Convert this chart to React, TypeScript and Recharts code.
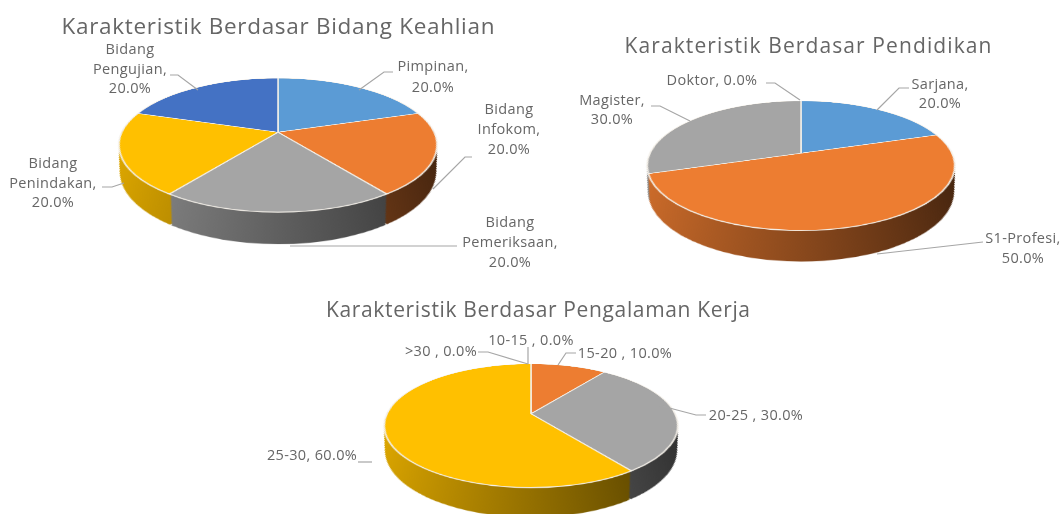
import React from 'react';
import { PieChart, Pie, Cell } from 'recharts';

const keahlianNames = ['Pimpinan', 'Bidang Infokom', 'Bidang Pemeriksaan', 'Bidang Penindakan', 'Bidang Pengujian'];
const keahlianValues = [20, 20, 20, 20, 20];
const keahlianColors = ['#5b9bd5', '#ed7d31', '#a5a5a5', '#ffc000', '#4472c4'];

const pendidikanNames = ['Sarjana', 'S1-Profesi', 'Magister', 'Doktor'];
const pendidikanValues = [20, 50, 30, 0];
const pendidikanColors = ['#5b9bd5', '#ed7d31', '#a5a5a5', '#ffc000'];

const pengalamanNames = ['10-15', '15-20', '20-25', '25-30', '>30'];
const pengalamanValues = [0, 10, 30, 60, 0];
const pengalamanColors = ['#5b9bd5', '#ed7d31', '#a5a5a5', '#ffc000', '#4472c4'];

const FONT = '"Open Sans", sans-serif';
const TEXT = '#666666';
const LINE = '#a6a6a6';

function shade(hex: string, f: number) {
  const n = parseInt(hex.slice(1), 16);
  const c = [(n >> 16) & 255, (n >> 8) & 255, n & 255].map((v) => Math.round(v * f));
  return `rgb(${c[0]},${c[1]},${c[2]})`;
}

function Pie3D({ id, names, values, colors, ax, ay, R }: any) {
  const data = names.map((name: string, i: number) => ({ name, value: values[i] })).filter((d: any) => d.value > 0);
  const cols = colors.filter((_: string, i: number) => values[i] > 0);
  const W = Math.round(R * 2.4);
  const H = Math.round(R * 2.9);
  const cx = W / 2;
  const cy = R * 1.2;
  const layers = Array.from({ length: 36 }, (_, i) => 36 - i);
  return (
    <div
      style={{
        position: 'absolute',
        left: ax - cx,
        top: ay - cy,
        width: W,
        height: H,
        transformOrigin: `${cx}px ${cy}px`,
        transform: `perspective(${R * 4.7}px) rotateX(65.6deg)`,
        filter: 'blur(0.3px)',
      }}
    >
      <PieChart width={W} height={H} margin={{ top: 0, right: 0, bottom: 0, left: 0 }}>
        <defs>
          {cols.map((c: string, i: number) => (
            <linearGradient key={i} id={`${id}-side-${i}`} gradientUnits="userSpaceOnUse" x1={cx - R} x2={cx + R} y1={0} y2={0}>
              <stop offset="0%" stopColor={shade(c, 0.88)} />
              <stop offset="100%" stopColor={shade(c, 0.28)} />
            </linearGradient>
          ))}
        </defs>
        {layers.map((k) => (
          <Pie
            key={k}
            data={data}
            dataKey="value"
            cx={cx}
            cy={cy + (k / 36) * R * 0.38}
            innerRadius={0}
            outerRadius={R * (1 - (k / 36) * 0.08)}
            startAngle={90}
            endAngle={-270}
            paddingAngle={0.5}
            stroke="none"
            isAnimationActive={false}
          >
            {cols.map((_: string, i: number) => (
              <Cell key={i} fill={`url(#${id}-side-${i})`} />
            ))}
          </Pie>
        ))}
        <Pie
          data={data}
          dataKey="value"
          cx={cx}
          cy={cy}
          innerRadius={0}
          outerRadius={R}
          startAngle={90}
          endAngle={-270}
          stroke="#f3efe8"
          strokeWidth={1.6}
          isAnimationActive={false}
        >
          {cols.map((c: string, i: number) => (
            <Cell key={i} fill={c} />
          ))}
        </Pie>
      </PieChart>
    </div>
  );
}

const titles = [
  { text: 'Karakteristik Berdasar Bidang Keahlian', x: 278, y: 34, w: 433, size: 22.5 },
  { text: 'Karakteristik Berdasar Pendidikan', x: 808, y: 53, w: 367, size: 21 },
  { text: 'Karakteristik Berdasar Pengalaman Kerja', x: 538, y: 317, w: 424, size: 21 },
];

const pct = (v: number) => `${v.toFixed(1)}%`;

const labels = [
  { lines: ['Bidang', 'Pengujian,', pct(keahlianValues[4])], x: 130, y: 54, gap: 19.5 },
  { lines: ['Pimpinan,', pct(keahlianValues[0])], x: 433, y: 71, gap: 21 },
  { lines: ['Bidang', 'Infokom,', pct(keahlianValues[1])], x: 509, y: 114, gap: 20 },
  { lines: ['Bidang', 'Pemeriksaan,', pct(keahlianValues[2])], x: 510, y: 227, gap: 20 },
  { lines: ['Bidang', 'Penindakan,', pct(keahlianValues[3])], x: 53, y: 168, gap: 19.5 },
  { lines: [`Doktor, ${pct(pendidikanValues[3])}`], x: 712, y: 85, gap: 0 },
  { lines: ['Magister,', pct(pendidikanValues[2])], x: 612, y: 105, gap: 19 },
  { lines: ['Sarjana,', pct(pendidikanValues[0])], x: 940, y: 89, gap: 19 },
  { lines: ['S1-Profesi,', pct(pendidikanValues[1])], x: 1023, y: 243, gap: 19.5 },
  { lines: [`10-15 , ${pct(pengalamanValues[0])}`], x: 531, y: 345, gap: 0 },
  { lines: [`>30 , ${pct(pengalamanValues[4])}`], x: 441, y: 356, gap: 0 },
  { lines: [`15-20 , ${pct(pengalamanValues[1])}`], x: 625, y: 358, gap: 0 },
  { lines: [`20-25 , ${pct(pengalamanValues[2])}`], x: 756, y: 420, gap: 0 },
  { lines: [`25-30, ${pct(pengalamanValues[3])}`], x: 312, y: 460, gap: 0 },
];

const leaders = [
  '170,75 178,75 198,90',
  '393,72 384,72 359,90',
  '472,157 465,157 433,189',
  '457,246 290,246',
  '102,187 112,187 124,183',
  '766,83 775,83 800,100',
  '651,106 660,106 690,121',
  '909,88 899,88 877,110',
  '983,242 877,254',
  '528,347 528,364',
  '478,352 488,352 528,364',
  '576,353 566,353 558,365',
  '706,415 696,415 658,405',
  '358,462 372,462',
];

export default function App() {
  return (
    <div style={{ position: 'absolute', left: 0, top: 0, width: 1062, height: 514, overflow: 'hidden', background: '#fff' }}>
      <Pie3D id="keahlian" names={keahlianNames} values={keahlianValues} colors={keahlianColors} ax={278} ay={132} R={156} />
      <Pie3D id="pendidikan" names={pendidikanNames} values={pendidikanValues} colors={pendidikanColors} ax={801} ay={153} R={151} />
      <Pie3D id="pengalaman" names={pengalamanNames} values={pengalamanValues} colors={pengalamanColors} ax={531} ay={414} R={144} />
      <svg width={1062} height={514} style={{ position: 'absolute', left: 0, top: 0, filter: 'blur(0.4px)' }} fontFamily={FONT}>
        {leaders.map((p, i) => (
          <polyline key={i} points={p} fill="none" stroke={LINE} strokeWidth={1.2} />
        ))}
        {titles.map((t) => (
          <text key={t.text} x={t.x} y={t.y} textAnchor="middle" fontSize={t.size} fill="#666" textLength={t.w} lengthAdjust="spacing">
            {t.text}
          </text>
        ))}
        {labels.map((l, i) => (
          <text key={i} textAnchor="middle" fontSize={14.5} letterSpacing={0.35} fill={TEXT}>
            {l.lines.map((s, j) => (
              <tspan key={j} x={l.x} y={l.y + j * l.gap}>
                {s}
              </tspan>
            ))}
          </text>
        ))}
      </svg>
    </div>
  );
}
